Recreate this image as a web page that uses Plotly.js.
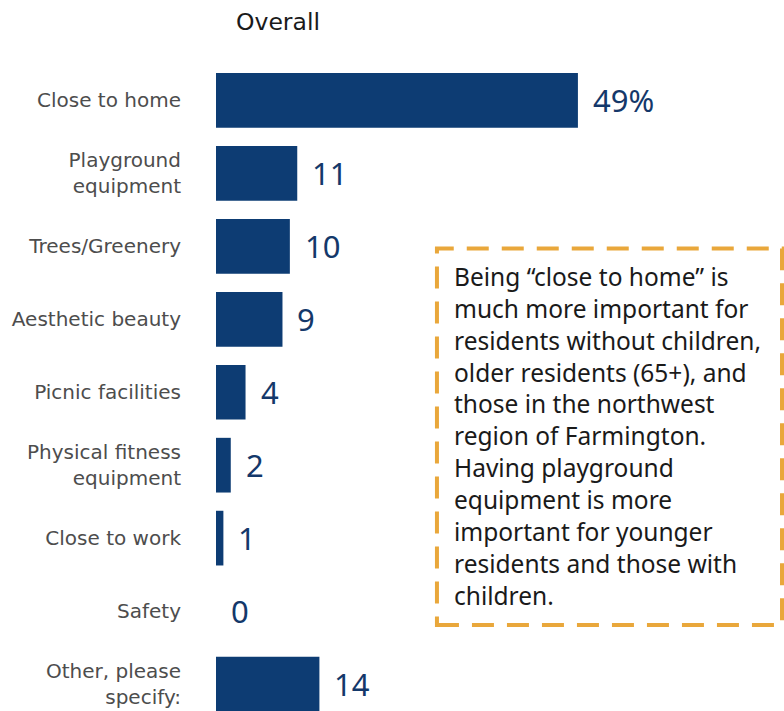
<!DOCTYPE html>
<html>
<head>
<meta charset="utf-8">
<script src="https://cdn.plot.ly/plotly-3.0.1.min.js"></script>
<style>html,body{margin:0;padding:0;background:#fff;}#chart{width:784px;height:711px;}</style>
</head>
<body>
<div id="chart"></div>
<script>
const categories = ["Close to home", "Playground<br>equipment", "Trees/Greenery", "Aesthetic beauty", "Picnic facilities", "Physical fitness<br>equipment", "Close to work", "Safety", "Other, please<br>specify:"];
const values = [49, 11, 10, 9, 4, 2, 1, 0, 14];
const valueLabels = ["49%", "11", "10", "9", "4", "2", "1", "0", "14"];
const chartTitle = "Overall";
const noteText = "Being “close to home” is<br>much more important for<br>residents without children,<br>older residents (65+), and<br>those in the northwest<br>region of Farmington.<br>Having playground<br>equipment is more<br>important for younger<br>residents and those with<br>children.";

const navy = "#0d3c73";
const font = "Noto Sans, sans-serif";
const labelFont = "DejaVu Sans, sans-serif";

const trace = {
  type: "bar",
  orientation: "h",
  x: values,
  y: categories,
  marker: {color: navy},
  width: 0.75,
  hoverinfo: "none"
};

const annotations = values.map((v, i) => ({
  x: v, y: categories[i], xref: "x", yref: "y",
  text: valueLabels[i], showarrow: false,
  xanchor: "left", yanchor: "middle", xshift: 13,
  font: {family: font, size: 31, color: "#14386a"}
}));

annotations.push({
  xref: "paper", yref: "paper", x: 0.0317, y: 1.0656,
  xanchor: "left", yanchor: "middle", showarrow: false,
  text: chartTitle, font: {family: labelFont, size: 23.5, color: "#1a1a1a"}
});

annotations.push({
  xref: "paper", yref: "paper", x: 0.416, y: 0.4247,
  xanchor: "left", yanchor: "middle", align: "left", showarrow: false,
  text: noteText, font: {family: font, size: 24.5, color: "#1a1a1a"}
});

const layout = {
  width: 784, height: 711,
  margin: {l: 216, r: 0, t: 64, b: 0, pad: 0},
  paper_bgcolor: "#ffffff", plot_bgcolor: "#ffffff",
  showlegend: false,
  xaxis: {range: [0, 76.9], visible: false, fixedrange: true},
  yaxis: {
    range: [8.37, -0.5], showgrid: false, zeroline: false, showline: false,
    ticks: "", ticklabelstandoff: 34,
    tickfont: {family: labelFont, size: 20, color: "#4d4d4d"}
  },
  shapes: [{
    type: "rect", xref: "paper", yref: "paper",
    x0: 0.389, x1: 0.9965, y0: 0.1328, y1: 0.715,
    line: {color: "#e9a73b", width: 4, dash: "22px,13px"},
    fillcolor: "rgba(0,0,0,0)"
  }],
  annotations: annotations
};

Plotly.newPlot("chart", [trace], layout, {displayModeBar: false, staticPlot: true});
</script>
</body>
</html>
